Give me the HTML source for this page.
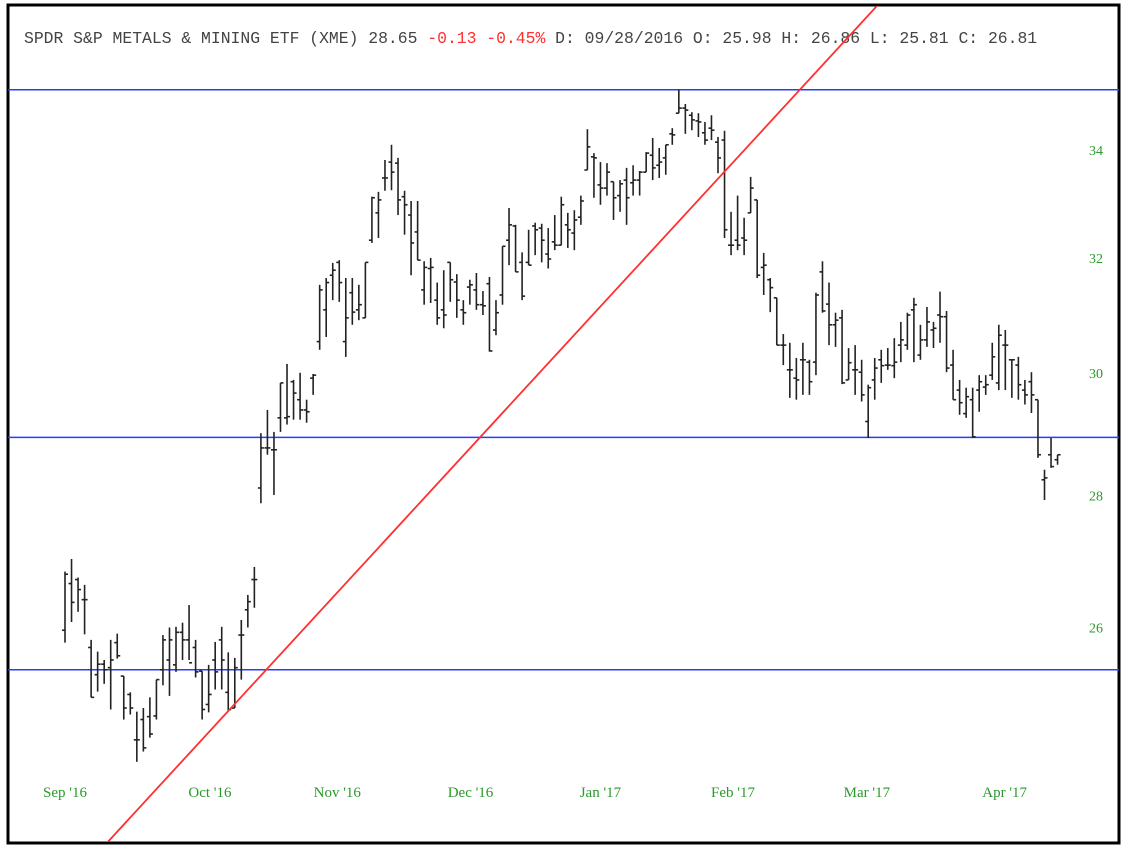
<!DOCTYPE html>
<html><head><meta charset="utf-8">
<style>
html,body{margin:0;padding:0;background:#fff;}
body{width:1133px;height:849px;overflow:hidden;position:relative;}
svg{position:absolute;left:0;top:0;}
</style></head>
<body>
<svg id="chart" width="1133" height="849">
  <rect x="8" y="5" width="1111" height="838" fill="#fff" stroke="#000" stroke-width="3"/>
  <text x="24" y="43" font-family="'Liberation Mono', monospace" font-size="16.4" fill="#444">SPDR S&amp;P METALS &amp; MINING ETF (XME) 28.65 <tspan fill="#ff3030">-0.13 -0.45%</tspan> D: 09/28/2016 O: 25.98 H: 26.86 L: 25.81 C: 26.81</text>
  <g id="hlines"></g>
  <g id="bars"></g>
  <g id="trend"></g>
  <g id="yaxis"></g>
  <g id="xaxis"></g>
</svg>
<script>
const highs=[26.83,27.02,26.74,26.63,25.82,25.65,25.53,25.82,25.91,25.30,25.07,24.80,24.85,25.00,25.25,25.89,26.00,26.01,26.07,26.33,25.82,25.37,25.46,25.79,26.01,25.64,25.56,26.11,26.48,26.90,
29.00,29.38,29.02,29.83,30.15,29.88,30.00,29.55,29.98,
31.52,31.64,31.91,31.96,31.64,31.64,31.52,31.92,33.12,33.21,33.81,34.10,33.85,33.23,33.04,33.04,31.94,32.00,31.56,31.78,31.92,31.71,31.25,31.61,31.73,31.41,31.66,31.25,32.21,32.91,32.60,32.10,32.51,32.64,32.62,32.54,32.78,33.12,32.82,32.87,33.14,
34.40,33.94,33.77,33.75,33.40,33.43,33.66,33.71,33.60,33.96,34.23,34.04,34.10,34.42,35.17,34.89,34.73,34.71,34.54,34.67,34.25,34.37,32.84,33.14,32.73,33.49,33.06,32.09,31.64,31.29,30.66,30.51,30.25,30.51,30.22,
31.38,31.94,31.56,31.03,31.08,30.42,30.47,30.22,29.80,30.25,30.39,30.42,30.59,30.87,31.03,31.29,30.82,31.13,30.87,31.40,31.06,30.39,29.88,29.75,29.75,29.96,29.96,30.51,30.82,30.73,30.22,30.27,29.88,30.01,29.55,28.41,28.92,28.65];
const lows=[25.78,26.08,26.23,25.90,25.00,25.08,25.19,24.83,25.55,24.69,24.76,24.11,24.25,24.44,24.69,25.17,25.02,25.36,25.53,25.53,25.28,24.69,24.79,25.11,25.11,24.80,24.85,25.25,26.00,26.29,
27.88,28.65,28.01,29.02,29.14,29.22,29.22,29.17,29.63,
30.39,30.61,31.25,31.22,30.27,30.82,30.90,30.94,32.27,32.36,33.23,33.24,32.78,32.42,31.69,31.96,31.17,31.20,30.82,30.76,31.22,30.94,30.82,31.17,31.08,30.99,30.36,30.64,31.17,31.87,31.75,31.25,31.87,32.05,31.92,31.81,32.14,32.23,32.18,32.14,32.60,
33.62,33.10,32.97,33.14,32.69,32.84,32.60,33.14,33.14,33.58,33.43,33.47,33.53,34.10,34.71,34.31,34.38,34.25,34.10,34.19,33.56,32.36,32.05,32.14,32.05,32.82,31.64,31.34,31.04,30.47,30.13,29.58,29.55,29.63,29.63,
29.96,31.03,30.47,30.44,29.81,29.88,29.63,29.52,28.92,29.55,29.83,30.05,29.91,30.18,30.39,30.18,30.22,30.44,30.42,30.51,30.01,29.55,29.30,29.25,28.92,29.35,29.63,29.88,29.71,29.71,29.58,29.55,29.47,29.33,28.60,27.93,28.44,28.49];
const opens=[25.96,26.65,26.71,26.41,25.71,25.32,25.47,25.42,25.78,25.30,25.04,24.41,24.69,24.73,24.74,25.39,25.53,25.46,25.93,25.82,25.71,25.37,24.90,25.53,25.82,25.07,24.85,25.89,26.26,26.71,
28.12,28.76,28.73,29.25,29.25,29.85,29.55,29.38,29.91,
30.53,31.08,31.69,31.92,30.53,31.38,31.08,30.94,32.32,32.82,33.47,33.77,33.75,33.12,32.78,32.47,31.43,31.81,31.25,31.08,31.92,31.57,31.08,31.48,31.43,31.17,31.54,30.73,31.34,32.32,32.58,31.92,31.92,32.58,32.54,32.07,32.29,32.23,32.60,32.45,32.74,
33.62,33.87,33.34,33.28,33.40,33.14,33.43,33.38,33.43,33.58,33.90,33.71,33.85,34.31,34.71,34.81,34.67,34.56,34.33,34.42,34.15,34.19,32.23,32.32,32.36,32.82,33.06,31.83,31.61,31.29,30.47,30.05,29.91,30.22,30.18,
30.18,31.75,31.18,30.82,30.94,29.88,30.05,30.01,29.19,29.88,30.22,30.13,30.12,30.47,30.47,31.08,30.30,30.56,30.73,30.99,30.96,30.13,29.71,29.32,29.55,29.71,29.76,29.96,29.83,30.47,30.22,30.13,29.71,29.85,29.55,28.25,28.65,28.57];
const closes=[26.79,26.37,26.56,26.41,25.00,25.47,25.39,25.53,25.59,24.85,24.85,24.41,24.30,24.49,25.25,25.82,25.82,25.93,25.82,25.49,25.36,24.83,25.04,25.36,25.53,24.83,25.42,25.89,26.38,26.71,
28.76,28.76,28.73,29.83,29.27,29.66,29.38,29.35,29.96,
31.43,31.56,31.78,31.56,30.94,31.04,31.17,31.92,33.10,33.06,33.47,33.58,33.06,32.97,32.27,31.96,31.83,31.83,30.94,30.99,31.61,31.25,31.03,31.52,31.17,31.15,30.37,31.03,32.21,32.60,31.75,31.32,31.87,32.51,32.32,31.98,32.23,32.97,32.51,32.69,33.04,
34.06,33.85,33.28,33.58,33.10,33.36,33.10,33.43,33.58,33.94,33.66,33.77,34.10,34.29,34.81,34.77,34.58,34.54,34.19,34.38,33.85,32.51,32.23,32.23,32.32,33.28,31.69,31.87,31.47,30.47,30.47,30.05,29.88,30.22,29.85,
31.34,31.06,30.82,30.90,29.83,30.17,30.05,29.63,29.75,30.08,30.12,30.13,30.18,30.56,30.99,31.17,30.56,30.87,30.76,30.96,30.08,29.55,29.50,29.60,28.94,29.85,29.80,30.27,30.64,30.47,30.22,29.80,29.63,29.63,28.65,28.28,28.46,28.65];
const yTicks=[26,28,30,32,34];
const levels=[35.17,28.93,25.39];
const monthLabels=["Sep '16","Oct '16","Nov '16","Dec '16","Jan '17","Feb '17","Mar '17","Apr '17"];
const monthStartIdx=[0,22.2,41.7,62.1,82.0,102.3,122.8,143.9];
const trendStart=[6.13,23.01];   // [bar index, price]
const trendEnd=[124.5,36.89];

const NS='http://www.w3.org/2000/svg';
const X0=65, STEP=6.53;
function xS(i){return X0+i*STEP;}
function yS(p){return 150-1780*Math.log(p/34);}
function mk(tag,attrs,parent){const e=document.createElementNS(NS,tag);for(const k in attrs)e.setAttribute(k,attrs[k]);parent.appendChild(e);return e;}

const hl=document.getElementById('hlines');
levels.forEach(v=>{
  const l=mk('line',{x1:8,x2:1119,y1:yS(v),y2:yS(v),stroke:'#2a3cff','stroke-width':1.5},hl);
  
  
});

const bg=document.getElementById('bars');
for(let i=0;i<highs.length;i++){
  const g=mk('g',{stroke:'#222','stroke-width':1.6},bg);
  
  
  const x=xS(i);
  mk('line',{x1:x,x2:x,y1:yS(highs[i]),y2:yS(lows[i])},g);
  mk('line',{x1:x-3,x2:x,y1:yS(opens[i]),y2:yS(opens[i])},g);
  mk('line',{x1:x,x2:x+3,y1:yS(closes[i]),y2:yS(closes[i])},g);
}

const cp=mk('clipPath',{id:'clipf'},document.getElementById('chart'));
mk('rect',{x:9,y:6,width:1109,height:836},cp);
const tg=document.getElementById('trend');
tg.setAttribute('clip-path','url(#clipf)');
const tl=mk('line',{x1:xS(trendStart[0]),y1:yS(trendStart[1]),x2:xS(trendEnd[0]),y2:yS(trendEnd[1]),stroke:'#ff3030','stroke-width':1.8},tg);



const ya=document.getElementById('yaxis');
yTicks.forEach(v=>{
  const t=mk('text',{x:1096,y:yS(v)+5,'text-anchor':'middle','font-family':"'Liberation Serif', serif",'font-size':14,fill:'#2a9a2a'},ya);
  t.textContent=v;
  
  
});
const xa=document.getElementById('xaxis');
monthLabels.forEach((m,k)=>{
  const t=mk('text',{x:xS(monthStartIdx[k]),y:797,'text-anchor':'middle','font-family':"'Liberation Serif', serif",'font-size':15,fill:'#2a9a2a'},xa);
  t.textContent=m;
  
  
});
</script>
</body></html>
